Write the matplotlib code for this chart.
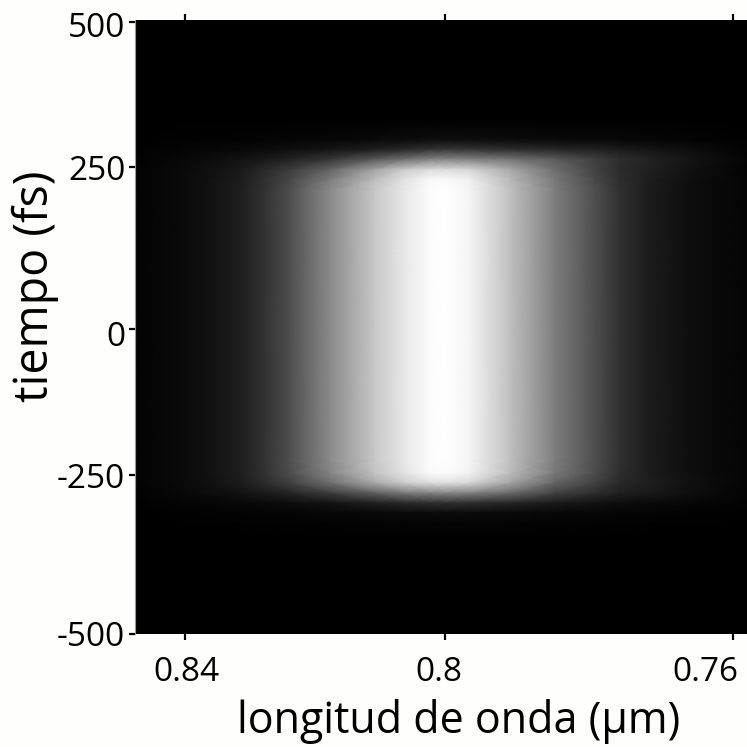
import numpy as np
import matplotlib
matplotlib.use("Agg")
import matplotlib.pyplot as plt
from matplotlib.transforms import ScaledTranslation

# sample points
wavelength = [0.8481, 0.8440, 0.8376, 0.8312, 0.8273, 0.8234, 0.8172, 0.8104, 0.8059, 0.8022,
              0.8000, 0.7964, 0.7906, 0.7842, 0.7786, 0.7752, 0.7711, 0.7656, 0.7581]
delay = [503, 340, 307, 291, 275, 258, 242, 225, 0, -216, -237, -253, -270, -286, -302, -322, -345, -500]

plateau = [3, 6, 14, 30, 50, 78, 138, 200, 232, 252, 255, 245, 192, 125, 78, 48, 28, 14, 4]
blank = [0] * 19

intensity = [
    blank,
    blank,
    [0, 1, 2, 3, 4, 5, 7, 10, 12, 14, 15, 14, 12, 10, 9, 8, 6, 4, 1],
    [1, 3, 6, 9, 12, 16, 22, 32, 42, 52, 56, 54, 48, 40, 34, 28, 22, 14, 3],
    [2, 5, 11, 18, 26, 35, 55, 90, 115, 132, 136, 132, 118, 92, 64, 46, 34, 20, 4],
    [3, 6, 13, 26, 42, 60, 100, 165, 205, 220, 222, 215, 170, 110, 66, 44, 32, 17, 3],
    [3, 6, 14, 28, 47, 70, 125, 190, 228, 248, 250, 240, 185, 120, 72, 46, 29, 14, 4],
    plateau,
    plateau,
    plateau,
    [3, 6, 14, 30, 50, 76, 132, 195, 228, 250, 252, 242, 188, 120, 76, 46, 28, 14, 4],
    [3, 6, 14, 27, 44, 64, 110, 170, 205, 222, 225, 215, 165, 100, 65, 40, 30, 16, 4],
    [2, 5, 11, 18, 26, 36, 60, 95, 120, 130, 132, 128, 105, 65, 45, 32, 25, 14, 3],
    [1, 3, 5, 8, 11, 14, 20, 32, 42, 46, 48, 46, 38, 26, 18, 14, 11, 7, 2],
    [0, 1, 2, 3, 4, 5, 7, 9, 11, 12, 13, 12, 10, 8, 6, 5, 4, 2, 1],
    [0, 0, 0, 1, 1, 1, 2, 3, 3, 3, 3, 3, 3, 2, 2, 1, 1, 0, 0],
    blank,
    blank,
]

x_ticks = [0.84, 0.80, 0.76]
x_tick_labels = ["0.84", "0.8", "0.76"]
# labels do not sit centred on their ticks in the original (px)
x_label_shift = [2, -6, -27]
y_label_shift = [-3, -1, -4, -1, 1]
# the ticks in the original are not evenly spaced
y_ticks = [500, 263, -2, -240, -500]
y_tick_labels = ["500", "250", "0", "-250", "-500"]

plt.rcParams["font.family"] = ["Open Sans", "DejaVu Sans"]

fig = plt.figure(figsize=(7.47, 7.47), dpi=100, facecolor="#fefefc")
ax = fig.add_axes([135 / 747, 113 / 747, 612 / 747, 614 / 747])

# x axis is linear in frequency, labelled in wavelength
freq = 1 / np.array(wavelength)
ax.pcolormesh(freq, delay, np.array(intensity), cmap="gray", vmin=0, vmax=255,
              shading="gouraud", rasterized=True)

ax.set_xlim(freq[0], freq[-1])
ax.set_ylim(-500, 503)

ax.set_xticks(1 / np.array(x_ticks))
ax.set_xticklabels(x_tick_labels)
ax.set_yticks(y_ticks)
ax.set_yticklabels(y_tick_labels)
ax.tick_params(axis="x", top=True, direction="out", length=4, width=1.6, labelsize=24, pad=12)
ax.tick_params(axis="y", direction="out", length=4, width=1.6, labelsize=24, pad=3)

for label, shift in zip(ax.get_xticklabels(), x_label_shift):
    label.set_transform(label.get_transform() + ScaledTranslation(shift / 100, 0, fig.dpi_scale_trans))
for label, shift in zip(ax.get_yticklabels(), y_label_shift):
    label.set_transform(label.get_transform() + ScaledTranslation(0, shift / 100, fig.dpi_scale_trans))

for side in ["top", "right", "bottom"]:
    ax.spines[side].set_visible(False)
ax.spines["left"].set_color("#9a9a9a")
ax.spines["left"].set_linewidth(0.8)

ax.set_xlabel("longitud de onda (μm)", fontsize=31)
ax.xaxis.set_label_coords((459 - 135) / 612, -(722 - 634) / 614, transform=ax.transAxes)
ax.xaxis.label.set_verticalalignment("center")
ax.set_ylabel("tiempo (fs)", fontsize=33.5)
ax.yaxis.set_label_coords(-(135 - 35) / 612, (634 - 286) / 614, transform=ax.transAxes)
ax.yaxis.label.set_verticalalignment("center")

fig.savefig("out.png", dpi=100, facecolor=fig.get_facecolor())
